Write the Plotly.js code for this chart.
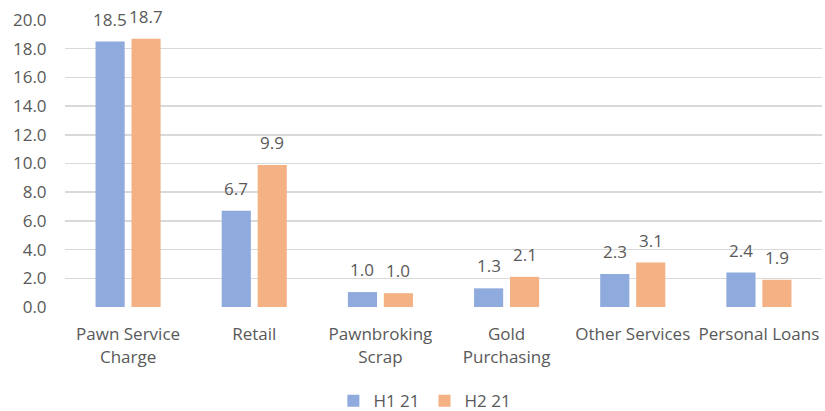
<!DOCTYPE html>
<html><head><meta charset="utf-8">
<script src="https://cdn.plot.ly/plotly-3.0.1.min.js"></script>
<style>html,body{margin:0;padding:0;background:#fff}#chart{width:825px;height:411px}</style>
</head><body><div id="chart"></div>
<script>
const categories = ["Pawn Service<br>Charge", "Retail", "Pawnbroking<br>Scrap", "Gold<br>Purchasing", "Other Services", "Personal Loans"];
const seriesNames = ["H1 21", "H2 21"];
const h1Values = [18.5, 6.7, 1.04, 1.3, 2.3, 2.4];
const h2Values = [18.7, 9.9, 0.96, 2.1, 3.1, 1.9];
const yTickValues = [0, 2, 4, 6, 8, 10, 12, 14, 16, 18, 20];
const yTickLabels = ["0.0", "2.0", "4.0", "6.0", "8.0", "10.0", "12.0", "14.0", "16.0", "18.0", "20.0"];

const fontFam = "Open Sans, DejaVu Sans, sans-serif";
const grey = "#595959";
const colors = ["#8faadc", "#f4b183"];
const seriesValues = [h1Values, h2Values];

const data = seriesValues.map((vals, i) => ({
  type: "bar", name: seriesNames[i], x: categories, y: vals,
  marker: {color: colors[i]}, hoverinfo: "none"
}));

const annotations = [];
seriesValues.forEach((vals, i) => {
  vals.forEach((v, j) => {
    annotations.push({
      x: categories[j], y: v, xref: "x", yref: "y",
      text: v.toFixed(1), showarrow: false,
      xshift: i === 0 ? -18 : 18, yshift: 9, yanchor: "bottom",
      font: {family: fontFam, size: 17, color: grey}
    });
  });
});

const layout = {
  width: 825, height: 411,
  margin: {l: 65, r: 3, t: 20, b: 104},
  paper_bgcolor: "#fff", plot_bgcolor: "#fff",
  barmode: "group", bargap: 0.43, bargroupgap: 0.19,
  showlegend: true,
  legend: {orientation: "h", xref: "container", yref: "container", x: 0.515, xanchor: "center",
           y: 0.024, yanchor: "middle",
           font: {family: fontFam, size: 17, color: grey}},
  annotations: annotations,
  xaxis: {tickfont: {family: fontFam, size: 17, color: grey}, showgrid: false, zeroline: false,
          showline: false, ticks: "outside", ticklen: 12, tickcolor: "rgba(0,0,0,0)", automargin: false},
  yaxis: {range: [0, 20], tickvals: yTickValues, ticktext: yTickLabels,
          tickfont: {family: fontFam, size: 17, color: grey},
          showgrid: true, gridcolor: "#d9d9d9", gridwidth: 1.5, zeroline: false, showline: false,
          ticks: "outside", ticklen: 14, tickcolor: "rgba(0,0,0,0)", automargin: false},
  font: {family: fontFam}
};
Plotly.newPlot("chart", data, layout, {displayModeBar: false, staticPlot: true});
</script></body></html>
